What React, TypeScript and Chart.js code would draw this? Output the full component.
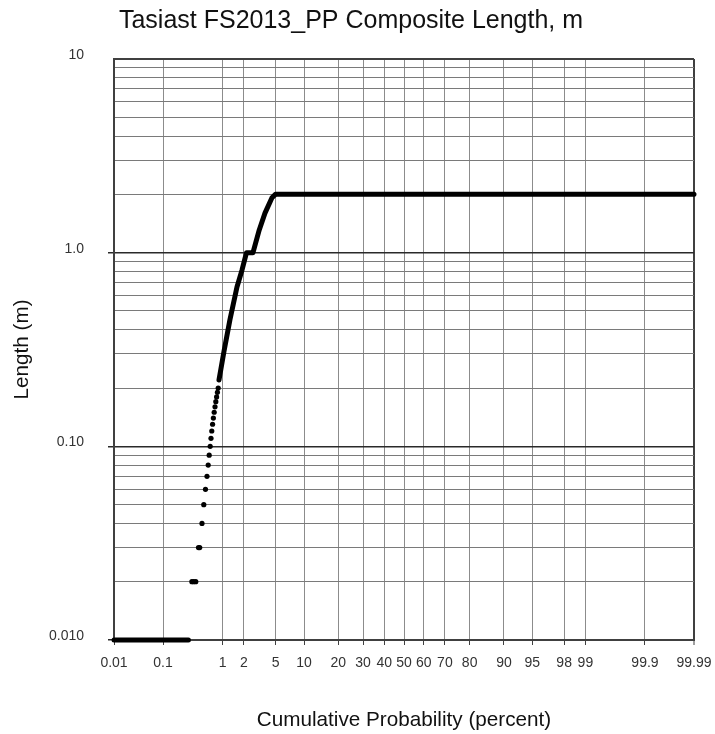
import React, { useEffect, useRef } from 'react';
import { Chart, registerables, Scale } from 'chart.js';

// ---------- text ----------
const TITLE = 'Tasiast FS2013_PP Composite Length, m';
const X_TITLE = 'Cumulative Probability (percent)';
const Y_TITLE = 'Length (m)';

// ---------- axes ----------
const X_TICKS = [0.01, 0.1, 1, 2, 5, 10, 20, 30, 40, 50, 60, 70, 80, 90, 95, 98, 99, 99.9, 99.99];
const X_TICK_LABELS = ['0.01', '0.1', '1', '2', '5', '10', '20', '30', '40', '50', '60', '70', '80', '90', '95', '98', '99', '99.9', '99.99'];

const Y_TICKS = [
  0.01, 0.02, 0.03, 0.04, 0.05, 0.06, 0.07, 0.08, 0.09,
  0.1, 0.2, 0.3, 0.4, 0.5, 0.6, 0.7, 0.8, 0.9,
  1, 2, 3, 4, 5, 6, 7, 8, 9,
  10,
];
const Y_TICK_LABELS = [
  '0.010', '', '', '', '', '', '', '', '',
  '0.10', '', '', '', '', '', '', '', '',
  '1.0', '', '', '', '', '', '', '', '',
  '10',
];

// ---------- data (cumulative percent, length m) ----------
// run of samples at the 0.01 m floor
const FLOOR_PCT = [0.01, 0.285];
const FLOOR_LEN = [0.01, 0.01];

// individually visible samples
const DOT_PCT = [0.326, 0.35, 0.379, 0.42, 0.44, 0.479, 0.512, 0.545, 0.576, 0.602, 0.624, 0.647, 0.666, 0.685, 0.705, 0.725, 0.746, 0.768, 0.79, 0.813, 0.836, 0.859];
const DOT_LEN = [0.02, 0.02, 0.02, 0.03, 0.03, 0.04, 0.05, 0.06, 0.07, 0.08, 0.09, 0.1, 0.11, 0.12, 0.13, 0.14, 0.15, 0.16, 0.17, 0.18, 0.19, 0.2];

// dense part of the distribution
const CURVE_PCT = [0.883, 1.05, 1.28, 1.61, 1.89, 2.17, 2.64, 3.17, 3.73, 4.52, 4.96, 99.99];
const CURVE_LEN = [0.22, 0.31, 0.45, 0.665, 0.814, 1.0, 1.0, 1.31, 1.6, 1.92, 2.0, 2.0];

// ---------- probability scale helpers ----------
function probit(p: number): number {
  const a = [-3.969683028665376e1, 2.209460984245205e2, -2.759285104469687e2, 1.38357751867269e2, -3.066479806614716e1, 2.506628277459239];
  const b = [-5.447609879822406e1, 1.615858368580409e2, -1.556989798598866e2, 6.680131188771972e1, -1.328068155288572e1];
  const c = [-7.784894002430293e-3, -3.223964580411365e-1, -2.400758277161838, -2.549732539343734, 4.374664141464968, 2.938163982698783];
  const d = [7.784695709041462e-3, 3.224671290700398e-1, 2.445134137142996, 3.754408661907416];
  const pl = 0.02425;
  const ph = 1 - pl;
  if (p < pl) {
    const q = Math.sqrt(-2 * Math.log(p));
    return (((((c[0] * q + c[1]) * q + c[2]) * q + c[3]) * q + c[4]) * q + c[5]) / ((((d[0] * q + d[1]) * q + d[2]) * q + d[3]) * q + 1);
  }
  if (p <= ph) {
    const q = p - 0.5;
    const r = q * q;
    return ((((((a[0] * r + a[1]) * r + a[2]) * r + a[3]) * r + a[4]) * r + a[5]) * q) / (((((b[0] * r + b[1]) * r + b[2]) * r + b[3]) * r + b[4]) * r + 1);
  }
  const q = Math.sqrt(-2 * Math.log(1 - p));
  return -(((((c[0] * q + c[1]) * q + c[2]) * q + c[3]) * q + c[4]) * q + c[5]) / ((((d[0] * q + d[1]) * q + d[2]) * q + d[3]) * q + 1);
}

function normCdf(z: number): number {
  const t = 1 / (1 + 0.2316419 * Math.abs(z));
  const poly = t * (0.31938153 + t * (-0.356563782 + t * (1.781477937 + t * (-1.821255978 + t * 1.330274429))));
  const v = 1 - (Math.exp(-z * z / 2) / Math.sqrt(2 * Math.PI)) * poly;
  return z >= 0 ? v : 1 - v;
}

const P_MIN = X_TICKS[0];
const P_MAX = X_TICKS[X_TICKS.length - 1];
const Z_MIN = probit(P_MIN / 100);
const Z_MAX = probit(P_MAX / 100);

class ProbabilityScale extends Scale {
  static id = 'probability';
  static defaults = {};
  determineDataLimits() {
    this.min = P_MIN;
    this.max = P_MAX;
  }
  buildTicks() {
    return X_TICKS.map((value) => ({ value }));
  }
  getLabelForValue(v: number) {
    return String(v);
  }
  getPixelForValue(v: number) {
    return this.getPixelForDecimal((probit(v / 100) - Z_MIN) / (Z_MAX - Z_MIN));
  }
  getValueForPixel(px: number) {
    const z = Z_MIN + this.getDecimalForPixel(px) * (Z_MAX - Z_MIN);
    return normCdf(z) * 100;
  }
  getPixelForTick(i: number) {
    return this.getPixelForValue(this.ticks[i].value);
  }
}

Chart.register(...registerables, ProbabilityScale as any);

const FONT = '"Liberation Sans", Arial, Helvetica, sans-serif';

const isDecade = (v: number) => Math.abs(Math.log10(v) - Math.round(Math.log10(v))) < 1e-6;

const textPlugin = {
  id: 'probTexts',
  afterDraw(chart: any) {
    const { ctx, chartArea } = chart;
    ctx.save();
    ctx.fillStyle = '#111';
    ctx.textBaseline = 'alphabetic';
    ctx.textAlign = 'center';
    ctx.font = `25px ${FONT}`;
    ctx.fillText(TITLE, 351, 28);
    ctx.font = `20.7px ${FONT}`;
    ctx.fillText(X_TITLE, (chartArea.left + chartArea.right) / 2, 726);
    ctx.translate(28, (chartArea.top + chartArea.bottom) / 2);
    ctx.rotate(-Math.PI / 2);
    ctx.fillText(Y_TITLE, 0, 0);
    ctx.restore();
  },
};

export default function App() {
  const canvasRef = useRef<HTMLCanvasElement | null>(null);

  useEffect(() => {
    document.body.style.margin = '0';
    const canvas = canvasRef.current;
    if (!canvas) return;

    const floor = FLOOR_PCT.map((x, i) => ({ x, y: FLOOR_LEN[i] }));
    const dots = DOT_PCT.map((x, i) => ({ x, y: DOT_LEN[i] }));
    const curve = CURVE_PCT.map((x, i) => ({ x, y: CURVE_LEN[i] }));

    const lastX = X_TICKS.length - 1;
    const lastY = Y_TICKS.length - 1;

    const chart = new Chart(canvas, {
      type: 'scatter',
      data: {
        datasets: [
          {
            data: floor,
            showLine: true,
            borderColor: '#000',
            borderWidth: 5,
            borderCapStyle: 'round',
            pointRadius: 0,
            clip: false,
          } as any,
          {
            data: dots,
            showLine: false,
            pointRadius: 2.6,
            pointBorderWidth: 0,
            backgroundColor: '#000',
            borderColor: '#000',
            clip: false,
          } as any,
          {
            data: curve,
            showLine: true,
            borderColor: '#000',
            borderWidth: 5,
            borderCapStyle: 'round',
            borderJoinStyle: 'round',
            pointRadius: 0,
            clip: false,
          } as any,
        ],
      },
      options: {
        animation: false,
        responsive: true,
        maintainAspectRatio: false,
        layout: { padding: { left: 0, top: 59, right: 21, bottom: 0 } },
        plugins: {
          legend: { display: false },
          tooltip: { enabled: false },
          title: { display: false },
        },
        scales: {
          x: {
            type: 'probability' as any,
            position: 'bottom',
            afterFit: (s: any) => {
              s.height = 94;
              s.paddingLeft = 0;
              s.paddingRight = 0;
            },
            ticks: {
              autoSkip: false,
              maxRotation: 0,
              minRotation: 0,
              padding: 10,
              color: '#333',
              font: { family: FONT, size: 14 },
              callback: (_v: any, i: number) => X_TICK_LABELS[i],
            },
            grid: {
              color: (ctx: any) => (ctx.index === lastX ? '#404040' : '#8c8c8c'),
              lineWidth: (ctx: any) => (ctx.index === lastX ? 2 : 1),
              tickLength: 5,
              tickColor: '#404040',
              tickWidth: 1,
              drawTicks: true,
            },
            border: { display: true, color: '#404040', width: 2 },
          } as any,
          y: {
            type: 'logarithmic',
            min: 0.01,
            max: 10,
            afterBuildTicks: (s: any) => {
              s.ticks = Y_TICKS.map((value) => ({ value, major: isDecade(value) }));
            },
            afterFit: (s: any) => {
              s.width = 114;
              s.paddingTop = 0;
              s.paddingBottom = 0;
            },
            ticks: {
              autoSkip: false,
              padding: 24,
              labelOffset: -4,
              color: '#333',
              font: { family: FONT, size: 14 },
              callback: (_v: any, i: number) => Y_TICK_LABELS[i],
            },
            grid: {
              color: (ctx: any) => {
                if (ctx.index === lastY) return '#404040';
                return ctx.tick && isDecade(ctx.tick.value) ? '#2a2a2a' : '#7a7a7a';
              },
              lineWidth: (ctx: any) => {
                if (ctx.index === lastY) return 2;
                return ctx.tick && isDecade(ctx.tick.value) ? 1.5 : 1;
              },
              tickLength: 6,
              tickColor: (ctx: any) => (ctx.tick && isDecade(ctx.tick.value) && ctx.index !== lastY ? '#2a2a2a' : 'rgba(0,0,0,0)'),
              drawTicks: true,
            },
            border: { display: true, color: '#404040', width: 2 },
          } as any,
        },
      },
      plugins: [textPlugin],
    });

    return () => chart.destroy();
  }, []);

  return (
    <div style={{ position: 'fixed', left: 0, top: 0, width: 715, height: 734, background: '#fff' }}>
      <canvas ref={canvasRef} />
    </div>
  );
}
